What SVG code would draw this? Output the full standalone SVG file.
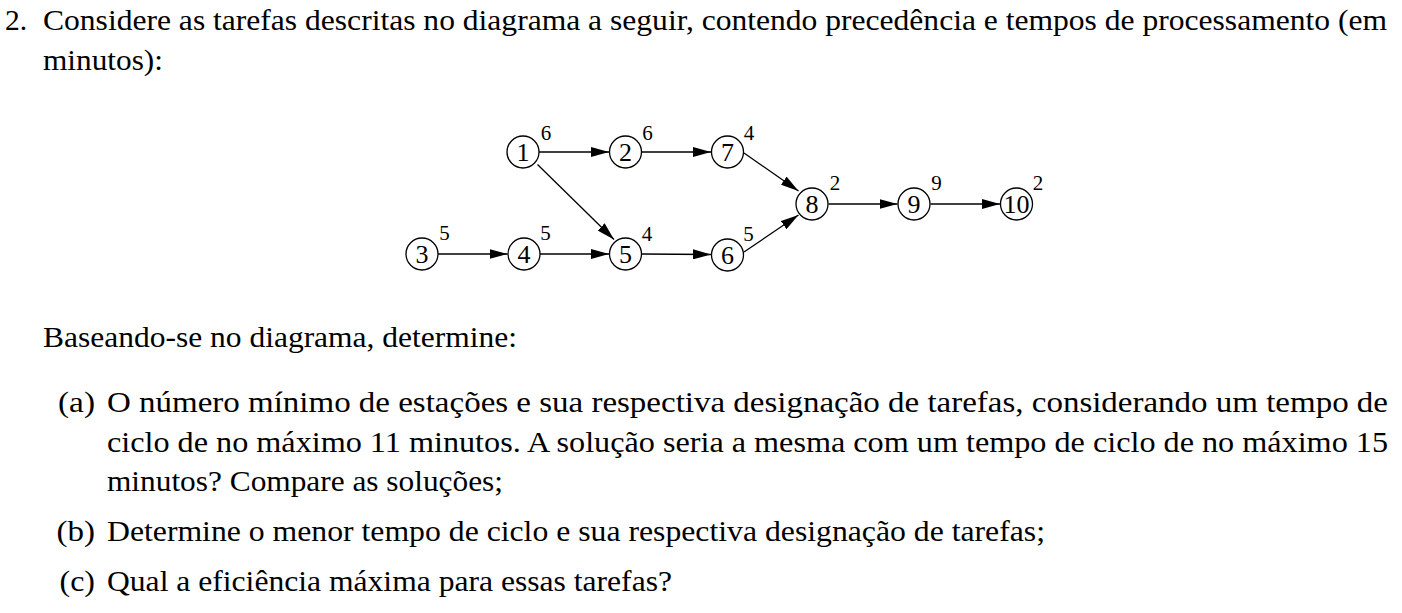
<svg xmlns="http://www.w3.org/2000/svg" width="1402" height="613" viewBox="0 0 1402 613">
<style>
.t{font-size:29.5px;fill:#000}
.n circle{fill:#fff;stroke:#000;stroke-width:1.3}
.lbl{font-size:26px;fill:#000;text-anchor:middle}
.w{font-size:21px;fill:#000;text-anchor:middle}
.e{stroke:#000;stroke-width:1.3;fill:none;marker-end:url(#ah)}
</style>
<defs>
<marker id="ah" markerUnits="userSpaceOnUse" markerWidth="18" markerHeight="10" refX="18" refY="5" orient="auto" viewBox="0 0 18 10">
<path d="M0,0 L18,5 L0,10 z" fill="#000"/>
</marker>
</defs>
<rect width="1402" height="613" fill="#fff"/>
<g id="text" font-family="Liberation Serif, Times New Roman, serif">
<text class="t" x="5" y="30">2.</text>
<text class="t" x="43" y="30" textLength="1344" lengthAdjust="spacingAndGlyphs">Considere as tarefas descritas no diagrama a seguir, contendo precedência e tempos de processamento (em</text>
<text class="t" x="43" y="70" textLength="120" lengthAdjust="spacingAndGlyphs">minutos):</text>
<text class="t" x="43" y="347" textLength="474" lengthAdjust="spacingAndGlyphs">Baseando-se no diagrama, determine:</text>
<text class="t" x="58" y="412" textLength="37" lengthAdjust="spacingAndGlyphs">(a)</text>
<text class="t" x="107" y="412" textLength="1281" lengthAdjust="spacingAndGlyphs">O número mínimo de estações e sua respectiva designação de tarefas, considerando um tempo de</text>
<text class="t" x="107" y="452" textLength="1281" lengthAdjust="spacingAndGlyphs">ciclo de no máximo 11 minutos. A solução seria a mesma com um tempo de ciclo de no máximo 15</text>
<text class="t" x="107" y="491" textLength="396" lengthAdjust="spacingAndGlyphs">minutos? Compare as soluções;</text>
<text class="t" x="56.5" y="541" textLength="38.5" lengthAdjust="spacingAndGlyphs">(b)</text>
<text class="t" x="107" y="541" textLength="938" lengthAdjust="spacingAndGlyphs">Determine o menor tempo de ciclo e sua respectiva designação de tarefas;</text>
<text class="t" x="59.5" y="591" textLength="35.5" lengthAdjust="spacingAndGlyphs">(c)</text>
<text class="t" x="107" y="591" textLength="565" lengthAdjust="spacingAndGlyphs">Qual a eficiência máxima para essas tarefas?</text>
</g>
<g id="connectors">
<line class="e" x1="539" y1="152" x2="609" y2="152"/>
<line class="e" x1="641.5" y1="152" x2="711" y2="152"/>
<line class="e" x1="438" y1="254" x2="507.5" y2="254"/>
<line class="e" x1="540" y1="254" x2="609" y2="254"/>
<line class="e" x1="641.5" y1="254" x2="711" y2="254.5"/>
<line class="e" x1="537.5" y1="164.5" x2="614" y2="239.5"/>
<line class="e" x1="744" y1="153" x2="798.5" y2="191"/>
<line class="e" x1="744" y1="252" x2="798.5" y2="215"/>
<line class="e" x1="828.5" y1="204" x2="897.5" y2="204"/>
<line class="e" x1="930.5" y1="204" x2="1000" y2="204"/>
</g>
<g font-family="Liberation Serif, Times New Roman, serif">
<g id="node1" class="n"><circle cx="523" cy="152" r="16"/><text class="lbl" x="523" y="161">1</text><text class="w" x="546" y="140">6</text></g>
<g id="node2" class="n"><circle cx="625.5" cy="152" r="16"/><text class="lbl" x="625.5" y="161">2</text><text class="w" x="647.5" y="140">6</text></g>
<g id="node7" class="n"><circle cx="727.5" cy="152" r="16"/><text class="lbl" x="727.5" y="161">7</text><text class="w" x="749" y="140">4</text></g>
<g id="node3" class="n"><circle cx="422" cy="254" r="16"/><text class="lbl" x="422" y="263">3</text><text class="w" x="444.5" y="240">5</text></g>
<g id="node4" class="n"><circle cx="524" cy="254" r="16"/><text class="lbl" x="524" y="263">4</text><text class="w" x="545.5" y="240">5</text></g>
<g id="node5" class="n"><circle cx="625.5" cy="254" r="16"/><text class="lbl" x="625.5" y="263">5</text><text class="w" x="647" y="241">4</text></g>
<g id="node6" class="n"><circle cx="727.5" cy="255" r="16"/><text class="lbl" x="727.5" y="264">6</text><text class="w" x="748.5" y="240.5">5</text></g>
<g id="node8" class="n"><circle cx="812" cy="204" r="16"/><text class="lbl" x="812" y="213">8</text><text class="w" x="835" y="190">2</text></g>
<g id="node9" class="n"><circle cx="914" cy="204" r="16"/><text class="lbl" x="914" y="213">9</text><text class="w" x="936.5" y="190">9</text></g>
<g id="node10" class="n"><circle cx="1016.5" cy="204" r="16"/><text class="lbl" x="1016.5" y="213" textLength="26" lengthAdjust="spacingAndGlyphs">10</text><text class="w" x="1038" y="190">2</text></g>
</g>
</svg>
